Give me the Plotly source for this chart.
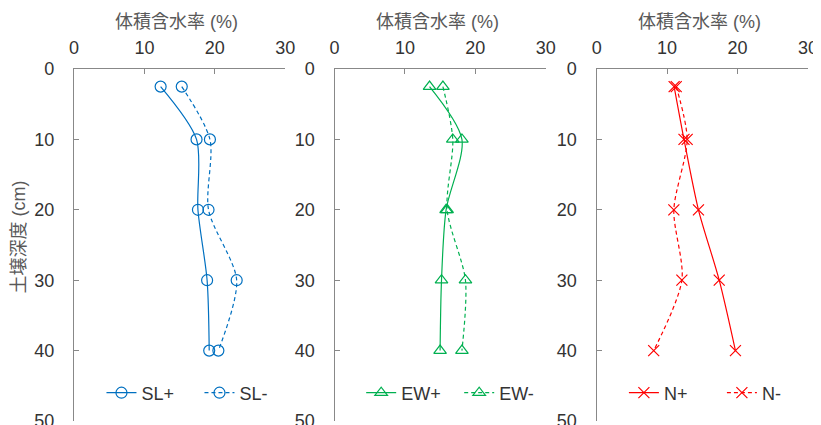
import plotly.graph_objects as go

depth = [2.5, 10, 20, 30, 40]

sl_plus = [12.3, 17.4, 17.6, 18.9, 19.2]
sl_minus = [15.3, 19.3, 19.1, 23.1, 20.5]
ew_plus = [13.5, 18.1, 15.85, 15.2, 15.0]
ew_minus = [15.4, 16.8, 16.0, 18.6, 18.1]
n_plus = [11.0, 12.4, 14.45, 17.4, 19.7]
n_minus = [11.3, 12.85, 10.96, 12.1, 8.1]

x_title = "体積含水率 (%)"
y_title = "土壌深度 (cm)"

OFF = 8  # page body margin
W, H = 821 - OFF, 425 - OFF
ML, MR, MT, MB = 73.5 - OFF, 821 - 808.3, 69 - OFF, 4
PW = W - ML - MR
PH = H - MT - MB

FONT = "Liberation Sans, Arial, Noto Sans CJK JP, sans-serif"
TICK_COLOR = "#333333"
TITLE_COLOR = "#595959"
AXIS_COLOR = "#888888"

# panel extents in window pixels
panels_px = [(73.5, 285), (334.3, 545.7), (596.7, 808.3)]
domains = [((a - OFF - ML) / PW, (b - OFF - ML) / PW) for a, b in panels_px]

series = [
    ("SL+", sl_plus, "#0070C0", "circle-open", "solid", 1),
    ("SL-", sl_minus, "#0070C0", "circle-open", "4px,3px", 1),
    ("EW+", ew_plus, "#00B050", "triangle-up-open", "solid", 2),
    ("EW-", ew_minus, "#00B050", "triangle-up-open", "4px,3px", 2),
    ("N+", n_plus, "#FF0000", "x-thin-open", "solid", 3),
    ("N-", n_minus, "#FF0000", "x-thin-open", "4px,3px", 3),
]

fig = go.Figure()
for name, vals, color, sym, dash, p in series:
    suffix = "" if p == 1 else str(p)
    fig.add_trace(go.Scatter(
        x=vals, y=depth, name=name, mode="lines+markers",
        xaxis="x" + suffix, yaxis="y" + suffix,
        line=dict(color=color, width=1.2, dash=dash, shape="spline", smoothing=0.8),
        marker=dict(symbol=sym, size=11, color=color, line=dict(color=color, width=1.2)),
        legend="legend" if p == 1 else "legend" + str(p),
    ))

layout = dict(
    width=W, height=H,
    margin=dict(l=ML, r=MR, t=MT, b=MB, autoexpand=False),
    paper_bgcolor="white", plot_bgcolor="white",
    font=dict(family=FONT, size=18, color=TICK_COLOR),
)

for i, (d0, d1) in enumerate(domains):
    p = i + 1
    sx = "xaxis" if p == 1 else "xaxis" + str(p)
    sy = "yaxis" if p == 1 else "yaxis" + str(p)
    ya = "y" if p == 1 else "y" + str(p)
    xa = "x" if p == 1 else "x" + str(p)
    layout[sx] = dict(
        domain=[d0, d1], anchor=ya, side="top", range=[0, 30], dtick=10,
        showgrid=False, zeroline=False, showline=True, linecolor=AXIS_COLOR, linewidth=1.3,
        ticks="inside", ticklen=5, tickcolor=AXIS_COLOR, tickwidth=1.3,
        tickfont=dict(size=18, color=TICK_COLOR), ticklabelstandoff=7,
        automargin=False,
    )
    layout[sy] = dict(
        domain=[0, 1], anchor=xa, range=[50, 0], dtick=10,
        tickmode="array", tickvals=[0, 10, 20, 30, 40, 50],
        showgrid=False, zeroline=False, showline=True, linecolor=AXIS_COLOR, linewidth=1.3,
        ticks="inside", ticklen=5, tickcolor=AXIS_COLOR, tickwidth=1.3,
        tickfont=dict(size=18, color=TICK_COLOR), ticklabelstandoff=15,
        ticklabeloverflow="allow", automargin=False,
    )

# legend left edges in window pixels
legend_x = [101, 361, 624]
for i, lx in enumerate(legend_x):
    key = "legend" if i == 0 else "legend" + str(i + 1)
    layout[key] = dict(
        orientation="h", xref="paper", yref="paper",
        x=(lx - OFF - ML) / PW, y=1 - (393 - OFF - MT) / PH, xanchor="left", yanchor="middle",
        bgcolor="rgba(0,0,0,0)", font=dict(size=18, color=TICK_COLOR),
        entrywidth=53, entrywidthmode="pixels", itemwidth=30,
        traceorder="normal",
    )

annotations = []
for (a, b) in panels_px:
    cx = (a + b) / 2 - 3 - OFF
    annotations.append(dict(
        text=x_title, xref="paper", yref="paper",
        x=(cx - ML) / PW, y=1 + (MT - (22 - OFF)) / PH, xanchor="center", yanchor="middle",
        showarrow=False, font=dict(size=18, color=TITLE_COLOR),
    ))
annotations.append(dict(
    text=y_title, xref="paper", yref="paper",
    x=(18 - OFF - ML) / PW, y=1 - (237 - OFF - MT) / PH, xanchor="center", yanchor="middle",
    textangle=-90, showarrow=False, font=dict(size=18, color=TITLE_COLOR),
))
layout["annotations"] = annotations

fig.update_layout(**layout)
fig.write_html("out.html")
